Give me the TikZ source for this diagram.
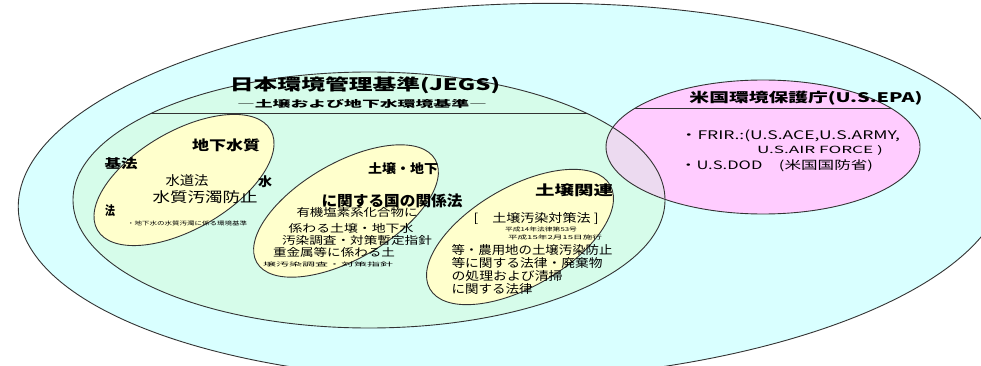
\documentclass[tikz,border=0pt]{standalone}
\usepackage{fontspec}
\setmainfont{Noto Sans CJK JP}
\newcommand\fitt[3]{\resizebox*{#1pt}{#2pt}{#3}}
\definecolor{outerc}{HTML}{D9FFFF}
\definecolor{greenc}{HTML}{D6FCEA}
\definecolor{yelc}{HTML}{FFFFCC}
\definecolor{pinkc}{HTML}{FFCCFF}
\definecolor{mixc}{HTML}{ECDAF0}
\definecolor{linec}{HTML}{333333}
\tikzset{
  ell/.style={draw=linec, line width=0.9pt},
  hdr/.style={font=\bfseries, inner sep=0pt, text=black},
  txt/.style={inner sep=0pt, text=black},
}
\begin{document}
\begin{tikzpicture}[x=1pt,y=-1pt]
\useasboundingbox (0,0) rectangle (981,366);
\clip (0,0) rectangle (981,366);
\fill[white] (0,0) rectangle (981,366);
% outer ellipse
\draw[ell, fill=outerc, rotate around={2:(512,192)}] (512,192) ellipse [x radius=494, y radius=188];
% JEGS and EPA fills
\fill[greenc] (369,200) ellipse [x radius=296, y radius=128];
\fill[pinkc] (763,147) ellipse [x radius=157, y radius=67];
\coordinate (jl) at (141,113);
\coordinate (jr) at (597,113);
\coordinate (pl) at (618,108);
\coordinate (pr) at (905,108);
\begin{scope}
  \clip (369,200) ellipse [x radius=296, y radius=128];
  \fill[mixc] (763,147) ellipse [x radius=157, y radius=67];
  \draw[ell] (jl) -- (jr);
\end{scope}
\begin{scope}
  \clip (763,147) ellipse [x radius=157, y radius=67];
  \draw[ell] (pl) -- (pr);
\end{scope}
\draw[ell] (369,200) ellipse [x radius=296, y radius=128];
\draw[ell] (763,147) ellipse [x radius=157, y radius=67];
% yellow ellipses
\draw[ell, fill=yelc, rotate around={30:(184,180)}] (184,180) ellipse [x radius=100, y radius=49];
\draw[ell, fill=yelc, rotate around={30:(346,211)}] (346,211) ellipse [x radius=103, y radius=48];
\draw[ell, fill=yelc, rotate around={30:(520,237)}] (520,237) ellipse [x radius=104, y radius=50];
% titles
\node[hdr] (title) at (365,85) {\fitt{270}{17}{日本環境管理基準(JEGS)}};
\node[hdr] (subtitle) at (362,104) {\fitt{250}{9}{―土壌および地下水環境基準―}};
\node[hdr] (epa) at (806,98.5) {\fitt{233}{14}{米国環境保護庁(U.S.EPA)}};
\node[txt] (epa1) at (790,136) {\fitt{220}{12}{・FRIR.:(U.S.ACE,U.S.ARMY,}};
\node[txt] (epa2) at (820,150) {\fitt{126}{10}{U.S.AIR FORCE )}};
\node[txt] (epa3) at (776.5,166) {\fitt{193}{12}{・U.S.DOD　(米国国防省)}};
% left ellipse
\node[hdr] (a1) at (226,145) {\fitt{68}{13}{地下水質}};
\node[hdr] (a2) at (121,164) {\fitt{33}{12}{基法}};
\node[txt] (a3) at (187,181) {\fitt{43}{12}{水道法}};
\node[hdr] (a4) at (265,182) {\fitt{14}{12}{水}};
\node[txt] (a5) at (205,197) {\fitt{105}{13}{水質汚濁防止}};
\node[hdr] (a6) at (110,211) {\fitt{10}{12}{法}};
\node[txt] (a7) at (187,223.5) {\fitt{120}{5}{・地下水の水質汚濁に係る環境基準}};
% middle ellipse
\node[hdr] (b1) at (403,169) {\fitt{70}{12}{土壌・地下}};
\node[hdr] (b2) at (392,201) {\fitt{141}{14}{に関する国の関係法}};
\node[txt] (b3) at (357,212) {\fitt{121}{10}{有機塩素系化合物に}};
\node[txt] (b4) at (351,228) {\fitt{125}{10}{係わる土壌・地下水}};
\node[txt] (b5) at (357,240) {\fitt{150}{10}{汚染調査・対策暫定指針}};
\node[txt] (b6) at (334,252) {\fitt{122}{10}{重金属等に係わる土}};
\node[txt] (b7) at (328,264.5) {\fitt{130}{5}{壌汚染調査・対策指針}};
% right ellipse
\node[hdr] (c1) at (574,190) {\fitt{78}{13}{土壌関連}};
\node[txt] (c2) at (536,219) {\fitt{125}{12}{[　土壌汚染対策法 ]}};
\node[txt] (c3) at (541,229.5) {\fitt{72}{5}{平成14年法律第53号}};
\node[txt] (c4) at (555,237) {\fitt{94}{5}{平成15年2月15日施行}};
\node[txt] (c5) at (532,250) {\fitt{161}{11}{等・農用地の土壌汚染防止}};
\node[txt] (c6) at (527,262.5) {\fitt{151}{11}{等に関する法律・廃棄物}};
\node[txt] (c7) at (507,276) {\fitt{111}{11}{の処理および清掃}};
\node[txt] (c8) at (492,288.5) {\fitt{81}{11}{に関する法律}};
\end{tikzpicture}
\end{document}
